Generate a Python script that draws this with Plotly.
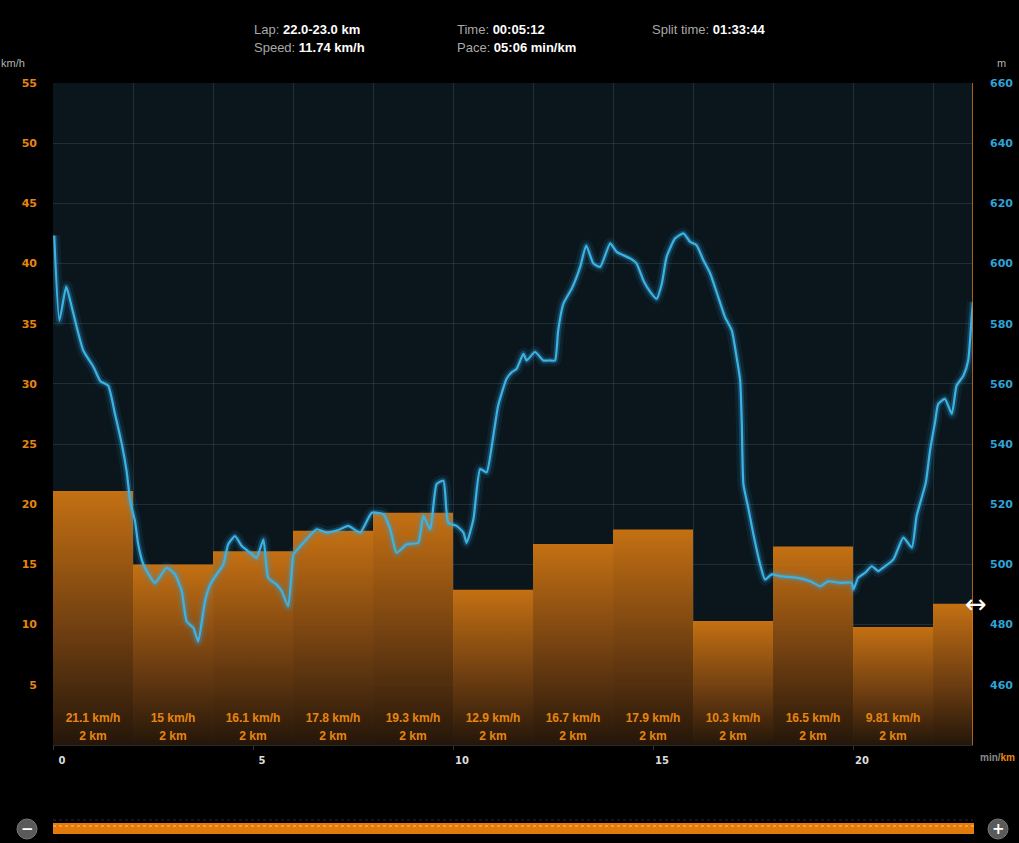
import plotly.graph_objects as go

# ---------------- data ----------------
lap_start_km = [0, 2, 4, 6, 8, 10, 12, 14, 16, 18, 20, 22]
lap_length_km = [2, 2, 2, 2, 2, 2, 2, 2, 2, 2, 2, 1]
lap_speed_kmh = [21.1, 15, 16.1, 17.8, 19.3, 12.9, 16.7, 17.9, 10.3, 16.5, 9.81, 11.74]
lap_speed_label = ["21.1 km/h", "15 km/h", "16.1 km/h", "17.8 km/h", "19.3 km/h", "12.9 km/h",
                   "16.7 km/h", "17.9 km/h", "10.3 km/h", "16.5 km/h", "9.81 km/h", ""]
lap_dist_label = ["2 km"] * 11 + [""]

dist_km = [0.03, 0.16, 0.33, 0.43, 0.59, 0.76, 1.01, 1.18, 1.38, 1.55, 1.72, 1.84, 1.93, 2.05,
           2.13, 2.26, 2.55, 2.84, 3.05, 3.22, 3.34, 3.51, 3.63, 3.80, 3.93, 4.09, 4.26, 4.38,
           4.55, 4.72, 4.93, 5.09, 5.26, 5.38, 5.59, 5.72, 5.88, 6.01, 6.05, 6.26, 6.59, 6.84,
           7.18, 7.38, 7.68, 7.97, 8.26, 8.43, 8.59, 8.84, 9.13, 9.26, 9.43, 9.59, 9.76, 9.88,
           10.09, 10.26, 10.34, 10.51, 10.68, 10.84, 10.97, 11.13, 11.34, 11.47, 11.59, 11.76,
           11.84, 12.05, 12.26, 12.43, 12.55, 12.63, 12.76, 12.97, 13.18, 13.33, 13.51, 13.68,
           13.93, 14.09, 14.43, 14.59, 14.76, 14.93, 15.09, 15.22, 15.34, 15.55, 15.76, 15.93,
           16.09, 16.26, 16.43, 16.63, 16.80, 16.97, 17.09, 17.18, 17.22, 17.26, 17.38, 17.51,
           17.68, 17.80, 17.97, 18.18, 18.59, 18.93, 19.18, 19.38, 19.68, 19.97, 20.01, 20.13,
           20.30, 20.47, 20.63, 20.80, 21.01, 21.26, 21.47, 21.59, 21.82, 21.93, 22.05, 22.13,
           22.30, 22.47, 22.59, 22.76, 22.88, 22.97, 23.0]
elev_m = [609.3, 581.1, 592.3, 587.7, 579.0, 571.0, 565.7, 561.0, 559.4, 550.0, 540.0, 531.0,
          521.0, 514.4, 506.7, 500.0, 493.9, 498.9, 496.7, 491.1, 481.1, 478.9, 474.4, 487.8,
          493.3, 496.7, 500.0, 506.7, 509.4, 506.1, 503.9, 502.2, 508.3, 495.6, 493.3, 491.1,
          486.1, 503.3, 504.0, 507.2, 511.7, 510.6, 511.7, 512.8, 510.6, 517.2, 516.7, 511.7,
          503.9, 506.7, 507.2, 516.1, 511.7, 526.7, 527.8, 513.9, 512.8, 510.6, 507.2, 515.0,
          531.7, 530.6, 539.4, 552.8, 561.7, 563.9, 565.0, 570.0, 567.8, 570.6, 567.8, 567.8,
          567.8, 577.8, 586.7, 591.7, 598.9, 606.0, 600.0, 598.9, 606.7, 603.9, 601.7, 600.0,
          594.4, 590.6, 588.3, 593.3, 602.2, 608.3, 610.0, 607.2, 606.1, 601.1, 596.7, 588.9,
          582.2, 577.8, 568.9, 561.1, 546.7, 526.7, 518.9, 510.0, 500.0, 495.0, 496.7, 496.1,
          495.6, 494.4, 492.8, 494.4, 493.9, 493.9, 491.7, 495.6, 497.2, 499.4, 497.8, 499.4,
          501.7, 508.9, 505.6, 516.1, 527.2, 538.3, 547.2, 553.3, 555.0, 550.0, 559.4, 562.7,
          567.8, 582.8, 587.2]

speed_ticks = [5, 10, 15, 20, 25, 30, 35, 40, 45, 50, 55]
elev_ticks = [460, 480, 500, 520, 540, 560, 580, 600, 620, 640, 660]
dist_ticks = [0, 5, 10, 15, 20]
grid_km = [0, 2, 4, 6, 8, 10, 12, 14, 16, 18, 20, 22]

header = [("Lap: ", "22.0-23.0 km"), ("Speed: ", "11.74 km/h"),
          ("Time: ", "00:05:12"), ("Pace: ", "05:06 min/km"),
          ("Split time: ", "01:33:44")]

# ---------------- figure ----------------
W, H = 1019, 843
L, R, T, B = 53, 46, 83, 98
PW, PH = W - L - R, H - T - B


def px_x(px):
    return (px - L) / PW


def px_y(py):
    return (H - B - py) / PH


ORANGE = "#e8850f"
BLUE = "#2fa3d6"
FONT = "Liberation Sans"
TICKFONT = "DejaVu Sans"

fig = go.Figure()

# bars with vertical gradient
for s, w, v in zip(lap_start_km, lap_length_km, lap_speed_kmh):
    fig.add_trace(go.Scatter(
        x=[s, s, s + w, s + w, s], y=[0, v, v, 0, 0],
        mode="lines", fill="toself", line=dict(width=0, color="rgba(0,0,0,0)"),
        fillgradient=dict(type="vertical",
                          colorscale=[[0, "rgba(38,22,8,0.92)"],
                                      [0.45, "rgba(120,66,16,0.92)"],
                                      [1, "rgba(208,118,18,0.94)"]]),
        hoverinfo="skip", showlegend=False))

centers = [s + w / 2 for s, w in zip(lap_start_km, lap_length_km)]
fig.add_trace(go.Scatter(
    x=centers, y=[2.15] * len(centers), mode="text", text=lap_speed_label,
    textfont=dict(family=FONT, size=12, color=ORANGE, weight=700),
    hoverinfo="skip", showlegend=False))
fig.add_trace(go.Scatter(
    x=centers, y=[0.68] * len(centers), mode="text", text=lap_dist_label,
    textfont=dict(family=FONT, size=12, color=ORANGE, weight=700),
    hoverinfo="skip", showlegend=False))

# elevation line with glow
for wdt, col in [(12, "rgba(40,160,225,0.10)"), (6, "rgba(50,170,230,0.25)"),
                 (2.2, "#3db3e3")]:
    fig.add_trace(go.Scatter(
        x=dist_km, y=elev_m, yaxis="y2", mode="lines",
        line=dict(color=col, width=wdt, shape="spline", smoothing=0.5),
        hoverinfo="skip", showlegend=False))

# helper trace for label axis
fig.add_trace(go.Scatter(x=[], y=[], xaxis="x2", showlegend=False, hoverinfo="skip"))

grid_col = "rgba(150,170,175,0.16)"
fig.update_layout(
    width=W, height=H,
    margin=dict(l=L, r=R, t=T, b=B, autoexpand=False),
    paper_bgcolor="#000000",
    plot_bgcolor="#0a161b",
    font=dict(family=FONT),
    xaxis=dict(range=[0, 23], tickvals=grid_km, showticklabels=False, showgrid=True,
               gridcolor=grid_col, gridwidth=1, zeroline=False, showline=True,
               linecolor="#2a2a2a", ticks="", automargin=False),
    xaxis2=dict(range=[0, 23], overlaying="x", anchor="y", side="bottom",
                tickvals=dist_ticks, ticktext=[str(t) for t in dist_ticks],
                showgrid=False, zeroline=False, ticks="outside", ticklen=4,
                tickcolor="#333", ticklabelshift=9, ticklabelstandoff=2, automargin=False,
                tickfont=dict(family=TICKFONT, size=10, color="#dddddd", weight=700)),
    yaxis=dict(range=[0, 55], tickvals=speed_ticks, showgrid=True, gridcolor=grid_col,
               zeroline=False, ticks="", ticklabelstandoff=15, automargin=False,
               tickfont=dict(family=TICKFONT, size=11, color=ORANGE, weight=700)),
    yaxis2=dict(range=[440, 660], tickvals=elev_ticks, overlaying="y", side="right",
                showgrid=False, zeroline=False, ticks="", ticklabelstandoff=16,
                automargin=False,
                tickfont=dict(family=TICKFONT, size=11, color=BLUE, weight=700)),
)

# header texts
hx = [252, 252, 455, 455, 650]
hy = [30, 47, 30, 47, 30]
for (lab, val), x, y in zip(header, hx, hy):
    fig.add_annotation(
        x=px_x(x), y=px_y(y), xref="paper", yref="paper", xanchor="left", yanchor="middle",
        showarrow=False,
        text=f"<span style='color:#a8a8a8'>{lab}</span><b>{val}</b>",
        font=dict(family=FONT, size=13, color="#ffffff"))

# axis unit labels
fig.add_annotation(x=px_x(27), y=px_y(63), xref="paper", yref="paper", xanchor="right",
                   yanchor="middle", showarrow=False, text="km/h",
                   font=dict(family=FONT, size=11, color="#b0b0b0"))
fig.add_annotation(x=px_x(995), y=px_y(63), xref="paper", yref="paper", xanchor="left",
                   yanchor="middle", showarrow=False, text="m",
                   font=dict(family=FONT, size=11, color="#b0b0b0"))
fig.add_annotation(x=px_x(1017), y=px_y(757), xref="paper", yref="paper", xanchor="right",
                   yanchor="middle", showarrow=False,
                   text="<span style='color:#8a8a8a'>min/</span><span style='color:#e8850f'>km</span>",
                   font=dict(family=FONT, size=10, weight=700))

# current position marker
fig.add_shape(type="line", xref="x", yref="paper", x0=23, x1=23, y0=0, y1=1,
              line=dict(color="#e07a10", width=1.5))
fig.add_annotation(x=23, y=lap_speed_kmh[-1], xref="x", yref="y", showarrow=False,
                   text="↔", xanchor="center", yanchor="middle", xshift=3,
                   font=dict(family="DejaVu Sans", size=26, color="#ffffff"))

# zoom slider decoration
fig.add_shape(type="line", xref="paper", yref="paper", x0=px_x(53), x1=px_x(973),
              y0=px_y(820), y1=px_y(820), line=dict(color="#3a2a1a", width=1, dash="dot"))
fig.add_shape(type="rect", xref="paper", yref="paper", x0=px_x(53), x1=px_x(974),
              y0=px_y(834), y1=px_y(823), fillcolor="#e37a0c", line=dict(width=0))
fig.add_shape(type="line", xref="paper", yref="paper", x0=px_x(53), x1=px_x(974),
              y0=px_y(826), y1=px_y(826), line=dict(color="#ff9a30", width=2, dash="dot"))
for cx, sym in [(27, "−"), (998, "+")]:
    fig.add_shape(type="circle", xref="paper", yref="paper", x0=px_x(cx - 10),
                  x1=px_x(cx + 10), y0=px_y(839), y1=px_y(819),
                  fillcolor="#5a5a5a", line=dict(color="#777", width=1))
    fig.add_annotation(x=px_x(cx), y=px_y(829), xref="paper", yref="paper", showarrow=False,
                       xanchor="center", yanchor="middle",
                       text=f"<b>{sym}</b>", font=dict(family="DejaVu Sans", size=15,
                                                        color="#ffffff"))

fig.write_html("out.html", config={"displayModeBar": False},
               post_script="document.body.style.margin='0px';document.body.style.background='#000';")
